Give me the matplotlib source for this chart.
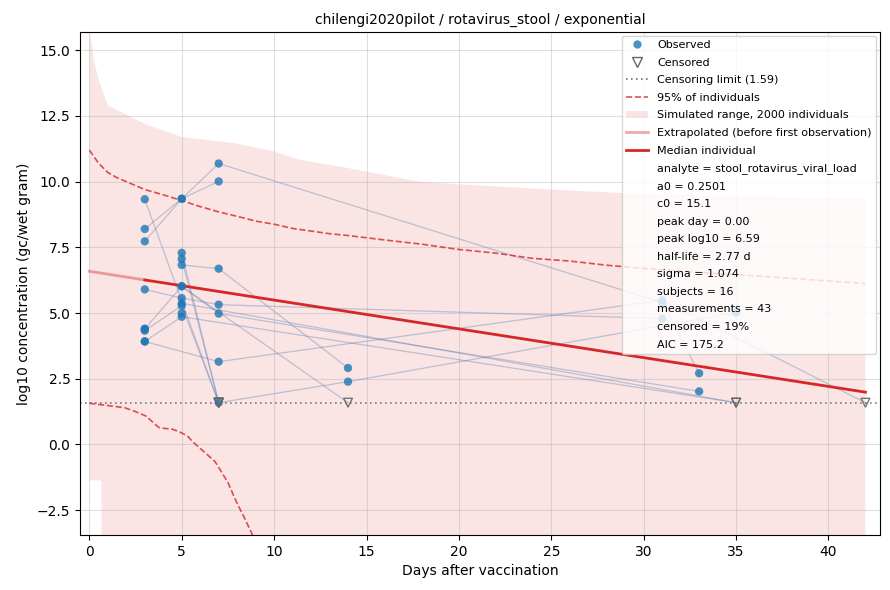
import matplotlib
matplotlib.use("Agg")
import matplotlib.pyplot as plt
from matplotlib.lines import Line2D
from matplotlib.patches import Patch
import numpy as np

# ---------------- data ----------------
LOD = 1.59

# subjects: list of (day, log10 value, censored?)
subjects = [
    [(3, 9.33, 0), (7, LOD, 1)],
    [(3, 8.20, 0), (5, 9.35, 0), (7, 10.01, 0)],
    [(3, 7.73, 0), (5, 9.35, 0), (7, 10.69, 0), (31, 5.40, 0), (33, 2.71, 0)],
    [(3, 5.90, 0), (5, 5.57, 0), (7, 5.32, 0), (31, 4.79, 0)],
    [(3, 4.40, 0), (5, 6.02, 0), (7, 4.98, 0), (33, 2.02, 0)],
    [(3, 4.33, 0), (5, 5.28, 0), (7, LOD, 1)],
    [(3, 3.92, 0), (5, 4.86, 0), (35, LOD, 1)],
    [(3, 3.92, 0), (7, 3.15, 0), (31, 5.49, 0), (42, LOD, 1)],
    [(5, 7.29, 0), (7, LOD, 1)],
    [(5, 7.06, 0), (7, 1.59, 0)],
    [(5, 6.83, 0), (7, 6.69, 0), (14, 2.91, 0)],
    [(5, 5.37, 0), (35, LOD, 1)],
    [(5, 5.00, 0)],
    [(7, LOD, 1), (14, 2.39, 0), (35, 5.02, 0)],
    [(5, 6.02, 0), (14, LOD, 1)],
    [(3, 4.40, 0)],
]

# 95% of individuals (upper / lower)
up95_days = [0, 0.5, 1, 1.5, 2, 3, 4, 5, 6, 7, 8, 9, 10, 11, 12, 13, 14, 16, 18, 20,
             22, 24, 26, 28, 30, 32, 34, 36, 38, 40, 42]
up95_vals = [11.2, 10.7, 10.35, 10.15, 10.0, 9.7, 9.5, 9.28, 9.05, 8.85, 8.68, 8.5, 8.38,
             8.22, 8.12, 8.02, 7.95, 7.78, 7.62, 7.42, 7.28, 7.08, 6.98, 6.82, 6.7, 6.6,
             6.5, 6.42, 6.32, 6.22, 6.12]
lo95_days = [0, 1, 1.9, 2.5, 3.1, 3.5, 3.8, 4.5, 4.9, 5.3, 5.6, 6.0, 6.4, 6.8, 7.2, 7.5,
             8.0, 8.4, 8.8, 9.0]
lo95_vals = [1.57, 1.48, 1.40, 1.25, 1.07, 0.80, 0.63, 0.58, 0.47, 0.33, 0.10, -0.15,
             -0.40, -0.65, -1.10, -1.45, -2.25, -2.80, -3.40, -3.70]

# simulated range
sim_days = [0, 0.25, 0.5, 0.65, 0.7, 1, 2, 3, 4, 5, 8, 10, 11.4, 13.6, 17.9, 20, 25,
            28.7, 35, 42]
sim_hi = [15.9, 14.6, 13.9, 13.6, 13.5, 12.9, 12.55, 12.2, 11.95, 11.7, 11.45, 11.15,
          10.83, 10.57, 9.99, 9.9, 9.7, 9.57, 9.45, 9.35]
sim_lo = [-1.37, -1.37, -1.37, -1.37, -8, -8, -8, -8, -8, -8, -8, -8, -8, -8, -8, -8,
          -8, -8, -8, -8]

# median individual
extrap_days = [0, 3]
extrap_vals = [6.59, 6.26]
median_days = [3, 42]
median_vals = [6.26, 1.99]

legend_info = [
    "analyte = stool_rotavirus_viral_load",
    "a0 = 0.2501",
    "c0 = 15.1",
    "peak day = 0.00",
    "peak log10 = 6.59",
    "half-life = 2.77 d",
    "sigma = 1.074",
    "subjects = 16",
    "measurements = 43",
    "censored = 19%",
    "AIC = 175.2",
]

# ---------------- plot ----------------
fig, ax = plt.subplots(figsize=(8.9, 5.9), dpi=100)
fig.subplots_adjust(left=0.09, right=0.989, top=0.946, bottom=0.093)

red = "#d62728"
blue = "#1f77b4"

ax.fill_between(sim_days, sim_lo, sim_hi, color=red, alpha=0.12, linewidth=0, zorder=1)

for subj in subjects:
    d = [p[0] for p in subj]
    v = [p[1] for p in subj]
    ax.plot(d, v, color="#4a78b0", alpha=0.35, lw=0.9, zorder=2)

ax.plot(up95_days, up95_vals, color=red, ls="--", lw=1.2, alpha=0.8, zorder=3)
ax.plot(lo95_days, lo95_vals, color=red, ls="--", lw=1.2, alpha=0.8, zorder=3)

ax.axhline(LOD, color="#707070", ls=(0, (1, 2)), lw=1.2, alpha=0.9, zorder=2.5)

obs_d = [p[0] for s in subjects for p in s if not p[2]]
obs_v = [p[1] for s in subjects for p in s if not p[2]]
cen_d = [p[0] for s in subjects for p in s if p[2]]
cen_v = [p[1] for s in subjects for p in s if p[2]]

ax.scatter(obs_d, obs_v, s=36, color=blue, alpha=0.8, edgecolors="none", zorder=5)
ax.scatter(cen_d, cen_v, s=40, marker="v", facecolors="none", edgecolors="#666666",
           linewidths=1.0, alpha=0.9, zorder=5)

ax.plot(extrap_days, extrap_vals, color=red, alpha=0.4, lw=2, zorder=4)
ax.plot(median_days, median_vals, color=red, lw=2, zorder=4)

ax.set_xlim(-0.5, 42.8)
ax.set_ylim(-3.45, 15.7)
ax.set_xticks([0, 5, 10, 15, 20, 25, 30, 35, 40])
ax.grid(True, alpha=0.4)
ax.set_xlabel("Days after vaccination")
ax.set_ylabel("log10 concentration (gc/wet gram)")
ax.set_title("chilengi2020pilot / rotavirus_stool / exponential", fontsize=10)

handles = [
    Line2D([], [], marker="o", ls="none", color=blue, alpha=0.8, markersize=6,
           markeredgewidth=0),
    Line2D([], [], marker="v", ls="none", markerfacecolor="none",
           markeredgecolor="#666666", markersize=6.5),
    Line2D([], [], color="#707070", ls=(0, (1, 2)), lw=1.2),
    Line2D([], [], color=red, ls="--", lw=1.2, alpha=0.8),
    Patch(facecolor=red, alpha=0.12, edgecolor="none"),
    Line2D([], [], color=red, alpha=0.4, lw=2),
    Line2D([], [], color=red, lw=2),
]
labels = [
    "Observed",
    "Censored",
    f"Censoring limit ({LOD})",
    "95% of individuals",
    "Simulated range, 2000 individuals",
    "Extrapolated (before first observation)",
    "Median individual",
]
for t in legend_info:
    handles.append(Line2D([], [], ls="none", marker="none"))
    labels.append(t)

ax.legend(handles, labels, loc="upper right", fontsize=8, framealpha=0.8,
          labelspacing=0.68, borderaxespad=0.35)

fig.savefig("out.png", dpi=100)
